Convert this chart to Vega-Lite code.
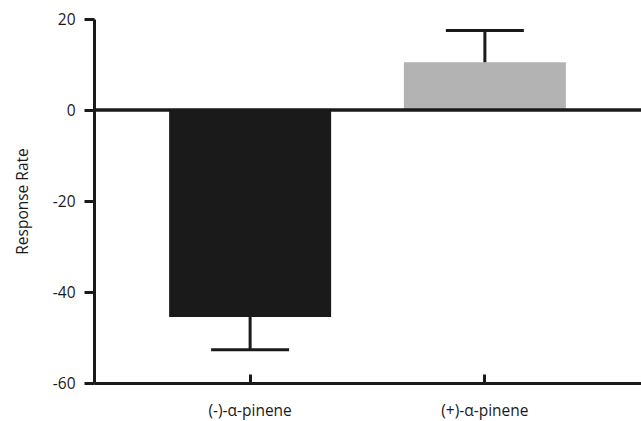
{
  "$schema": "https://vega.github.io/schema/vega-lite/v6.json",
  "autosize": "none",
  "padding": {"left": 94, "top": 19, "right": 0, "bottom": 38},
  "width": 547,
  "height": 364,
  "background": "white",
  "config": {
    "view": {"stroke": null},
    "font": "Open Sans",
    "axis": {
      "domainColor": "#1a1a1a",
      "domainWidth": 3,
      "tickColor": "#1a1a1a",
      "tickWidth": 3,
      "grid": false,
      "labelColor": "#1a1a1a",
      "labelFont": "Open Sans",
      "labelFontSize": 15.5,
      "titleFont": "Open Sans",
      "titleFontSize": 15.5,
      "titleFontWeight": "normal",
      "titleColor": "#1a1a1a"
    }
  },
  "data": {
    "values": [
      {"group": "(-)-α-pinene", "mean": -45.5, "err": -52.7},
      {"group": "(+)-α-pinene", "mean": 10.5, "err": 17.5}
    ]
  },
  "layer": [
    {
      "mark": {"type": "bar"},
      "encoding": {
        "x": {
          "field": "group", "type": "nominal", "sort": null,
          "scale": {"paddingInner": 0.31, "paddingOuter": 0.32},
          "axis": {"title": null, "labelAngle": 0, "tickSize": -9, "labelPadding": 29, "domainCap": "butt"}
        },
        "y": {
          "field": "mean", "type": "quantitative",
          "scale": {"domain": [-60, 20], "nice": false, "zero": false},
          "axis": {"title": "Response Rate", "values": [-60, -40, -20, 0, 20], "labelExpr": "toString(datum.value)", "tickSize": 10, "labelPadding": 9, "titlePadding": 22}
        },
        "color": {
          "field": "group", "type": "nominal", "sort": null,
          "scale": {"range": ["#1a1a1a", "#b3b3b3"]},
          "legend": null
        }
      }
    },
    {
      "mark": {"type": "rule", "strokeWidth": 3, "color": "#1a1a1a"},
      "encoding": {
        "x": {"field": "group", "type": "nominal", "sort": null},
        "y": {"field": "mean", "type": "quantitative"},
        "y2": {"field": "err"}
      }
    },
    {
      "mark": {"type": "tick", "thickness": 3, "size": 78, "color": "#1a1a1a", "opacity": 1},
      "encoding": {
        "x": {"field": "group", "type": "nominal", "sort": null},
        "y": {"field": "err", "type": "quantitative"}
      }
    },
    {
      "mark": {"type": "rule", "strokeWidth": 3, "color": "#1a1a1a"},
      "encoding": {
        "y": {"datum": 0, "type": "quantitative"}
      }
    }
  ]
}
